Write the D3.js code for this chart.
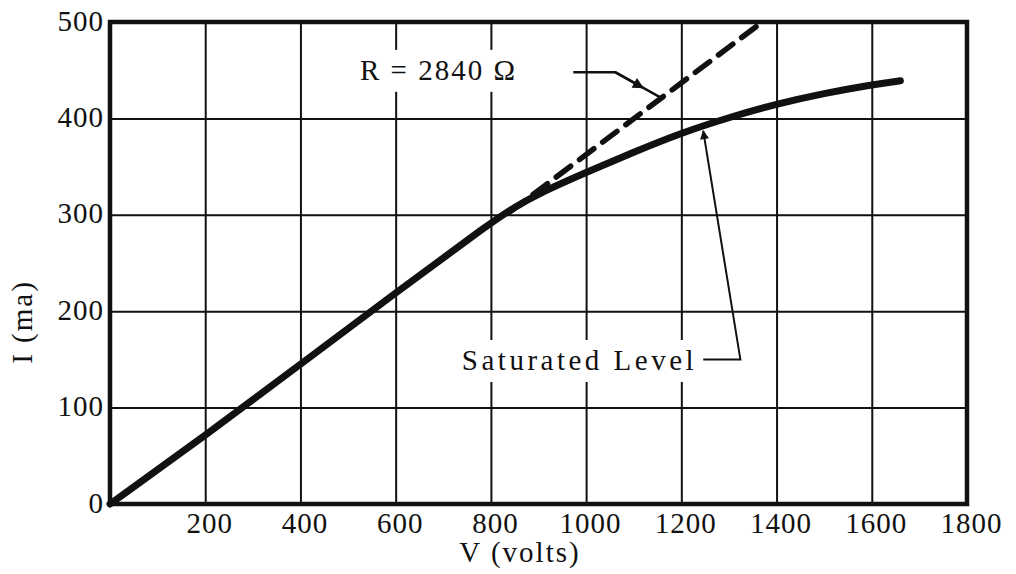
<!DOCTYPE html>
<html>
<head>
<meta charset="utf-8">
<script src="https://cdn.jsdelivr.net/npm/d3@7"></script>
<style>
  body { margin: 0; background: #fff; }
  text { font-family: "Liberation Serif", serif; fill: #111; }
  .tick text { font-size: 29px; letter-spacing: 1px; }
  .label { font-size: 29px; letter-spacing: 2px; }
</style>
</head>
<body>
<svg width="1016" height="574"></svg>
<script>
// values
const xTicks = [200, 400, 600, 800, 1000, 1200, 1400, 1600, 1800];
const yTicks = [0, 100, 200, 300, 400, 500];

// measured curve (saturated level)
const satV = [0, 200, 400, 600, 800, 850, 900, 1000, 1100, 1200, 1300, 1400, 1500, 1600, 1660];
const satI = [0, 71, 145, 219, 292, 308, 322, 344, 365, 385, 401, 415, 426, 435, 439];

// ohmic line R = 2840 ohm (dashed continuation)
const ohmV = [840, 1370];
const ohmI = [303, 500];

// annotation anchors in data units
const rLeaderV = [973, 1061, 1155];
const rLeaderI = [448, 448, 422];
const satLeaderV = [1246, 1324, 1246];
const satLeaderI = [150, 150, 387];

const margin = {top: 22, right: 49, bottom: 70, left: 110};
const W = 1016, H = 574;
const w = W - margin.left - margin.right;
const h = H - margin.top - margin.bottom;

const svg = d3.select("svg");

const x = d3.scaleLinear().domain([0, 1800]).range([margin.left, margin.left + w]);
const y = d3.scaleLinear().domain([0, 500]).range([margin.top + h, margin.top]);

const defs = svg.append("defs");
defs.append("marker")
    .attr("id", "arrow")
    .attr("viewBox", "0 0 10 10")
    .attr("refX", 9).attr("refY", 5)
    .attr("markerWidth", 18).attr("markerHeight", 9)
    .attr("markerUnits", "userSpaceOnUse")
    .attr("orient", "auto")
  .append("path")
    .attr("d", "M0,0 L10,5 L0,10 Z")
    .attr("fill", "#111");
defs.append("marker")
    .attr("id", "arrowBig")
    .attr("viewBox", "0 0 10 10")
    .attr("refX", 9).attr("refY", 5)
    .attr("markerWidth", 20).attr("markerHeight", 11)
    .attr("markerUnits", "userSpaceOnUse")
    .attr("orient", "auto")
  .append("path")
    .attr("d", "M0,0 L10,5 L0,10 Z")
    .attr("fill", "#111");

// grid via axes
const xAxis = svg.append("g")
    .attr("transform", "translate(0," + (margin.top + h) + ")")
    .call(d3.axisBottom(x).tickValues(xTicks).tickSize(-h).tickPadding(8).tickFormat(d3.format("d")));
const yAxis = svg.append("g")
    .attr("transform", "translate(" + margin.left + ",0)")
    .call(d3.axisLeft(y).tickValues(yTicks).tickSize(-w).tickPadding(6).tickFormat(d3.format("d")));

[xAxis, yAxis].forEach(a => {
  a.select(".domain").remove();
  a.selectAll(".tick line").attr("stroke", "#111").attr("stroke-width", 2);
  a.selectAll(".tick text").attr("fill", "#111");
});
xAxis.selectAll(".tick text").attr("dx", 4);
yAxis.selectAll(".tick text").attr("dy", "0.28em");

// frame
svg.append("rect")
    .attr("x", margin.left).attr("y", margin.top)
    .attr("width", w).attr("height", h)
    .attr("fill", "none").attr("stroke", "#111").attr("stroke-width", 4.5);

// axis titles
svg.append("text")
    .attr("class", "label")
    .attr("x", 520).attr("y", 562)
    .attr("text-anchor", "middle")
    .text("V (volts)");
svg.append("text")
    .attr("class", "label")
    .attr("transform", "translate(32,322) rotate(-90)")
    .attr("text-anchor", "middle")
    .text("I (ma)");

// annotation labels with a white patch that breaks the grid
function note(txt, v, i, spacing) {
  const t = svg.append("text")
      .attr("class", "label")
      .attr("x", x(v)).attr("y", y(i))
      .style("letter-spacing", spacing + "px")
      .text(txt);
  const b = t.node().getBBox();
  svg.insert("rect", "text.label:last-of-type")
      .attr("x", b.x - 6).attr("y", b.y - 4)
      .attr("width", b.width + 8).attr("height", b.height + 10)
      .attr("fill", "#fff");
  t.raise();
}
note("R = 2840 \u03A9", 525, 440, 2);
note("Saturated Level", 739, 139, 3.5);

// curves
const sat = satV.map((v, k) => [v, satI[k]]);
const ohm = ohmV.map((v, k) => [v, ohmI[k]]);

const line = d3.line().x(d => x(d[0])).y(d => y(d[1]));

svg.append("path")
    .datum(ohm)
    .attr("d", line)
    .attr("fill", "none").attr("stroke", "#111")
    .attr("stroke-width", 5.5)
    .attr("stroke-dasharray", "18,11")
    .attr("stroke-linecap", "round");

svg.append("path")
    .datum(sat)
    .attr("d", line.curve(d3.curveBasis))
    .attr("fill", "none").attr("stroke", "#111")
    .attr("stroke-width", 7)
    .attr("stroke-linecap", "round");

// leader for R: elbow, bold arrow partway down the diagonal
const rPts = rLeaderV.map((v, k) => [x(v), y(rLeaderI[k])]);
const mid = [rPts[1][0] + (rPts[2][0] - rPts[1][0]) * 0.62, rPts[1][1] + (rPts[2][1] - rPts[1][1]) * 0.62];
svg.append("path")
    .attr("d", d3.line()(rPts))
    .attr("fill", "none").attr("stroke", "#111").attr("stroke-width", 2.5);
svg.append("path")
    .attr("d", d3.line()([rPts[1], mid]))
    .attr("fill", "none").attr("stroke", "#111").attr("stroke-width", 2.5)
    .attr("marker-end", "url(#arrowBig)");

// leader for saturated level
const sPts = satLeaderV.map((v, k) => [x(v), y(satLeaderI[k])]);
svg.append("path")
    .attr("d", d3.line()(sPts))
    .attr("fill", "none").attr("stroke", "#111").attr("stroke-width", 2)
    .attr("marker-end", "url(#arrow)");
</script>
</body>
</html>
